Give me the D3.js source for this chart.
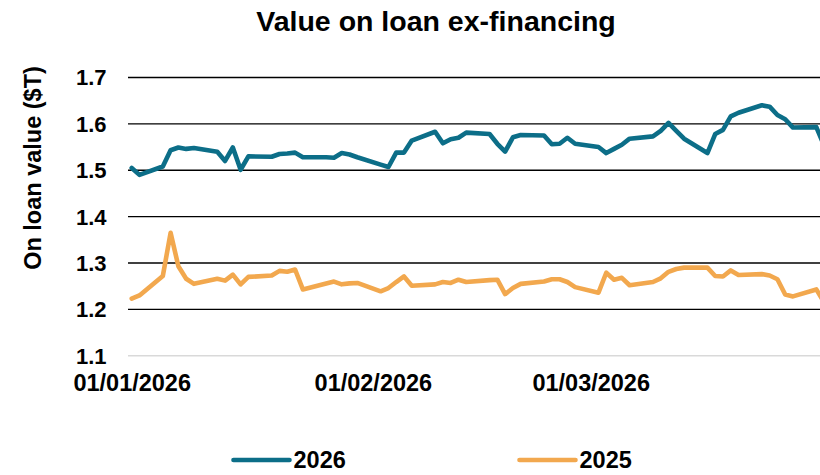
<!DOCTYPE html>
<html><head><meta charset="utf-8">
<script src="https://cdn.jsdelivr.net/npm/d3@7"></script>
<style>
html,body{margin:0;padding:0;background:#fff;}
text{font-family:"Liberation Sans",Arial,sans-serif;font-weight:bold;fill:#000;}
</style></head>
<body>
<svg id="chart" width="820" height="475"></svg>
<script>
const dates = [
"2026-01-01","2026-01-02","2026-01-05","2026-01-06","2026-01-07","2026-01-08","2026-01-09",
"2026-01-12","2026-01-13","2026-01-14","2026-01-15","2026-01-16",
"2026-01-19","2026-01-20","2026-01-21","2026-01-22","2026-01-23",
"2026-01-26","2026-01-27","2026-01-28","2026-01-29","2026-01-30",
"2026-02-02","2026-02-03","2026-02-04","2026-02-05","2026-02-06",
"2026-02-09","2026-02-10","2026-02-11","2026-02-12","2026-02-13",
"2026-02-16","2026-02-17","2026-02-18","2026-02-19","2026-02-20",
"2026-02-23","2026-02-24","2026-02-25","2026-02-26","2026-02-27",
"2026-03-02","2026-03-03","2026-03-04","2026-03-05","2026-03-06",
"2026-03-09","2026-03-10","2026-03-11","2026-03-12","2026-03-13",
"2026-03-16","2026-03-17","2026-03-18","2026-03-19","2026-03-20",
"2026-03-23","2026-03-24","2026-03-25","2026-03-26","2026-03-27",
"2026-03-30","2026-03-31"];

const values2026 = [
1.504,1.489,1.507,1.542,1.548,1.545,1.547,
1.539,1.519,1.548,1.500,1.529,
1.528,1.534,1.535,1.537,1.527,
1.527,1.526,1.536,1.533,1.527,
1.511,1.506,1.537,1.537,1.563,
1.582,1.557,1.566,1.569,1.580,
1.577,1.556,1.539,1.570,1.575,
1.574,1.555,1.556,1.569,1.556,
1.549,1.536,1.545,1.554,1.567,
1.572,1.584,1.601,1.584,1.567,
1.536,1.577,1.586,1.615,1.623,
1.639,1.636,1.618,1.609,1.591,
1.592,1.552];

const values2025 = [
1.222,1.229,1.271,1.364,1.292,1.265,1.254,
1.265,1.261,1.274,1.253,1.269,
1.272,1.282,1.280,1.285,1.242,
1.255,1.259,1.253,1.255,1.256,
1.238,1.245,1.258,1.270,1.250,
1.253,1.258,1.256,1.263,1.258,
1.262,1.263,1.232,1.245,1.254,
1.259,1.264,1.264,1.258,1.247,
1.235,1.278,1.263,1.267,1.251,
1.258,1.266,1.280,1.286,1.289,
1.289,1.271,1.270,1.283,1.273,
1.275,1.272,1.264,1.231,1.227,
1.242,1.214];

const seriesNames = ["2026","2025"];
const seriesColors = ["#0c6e88","#f2a84e"];
const yTicks = [1.1,1.2,1.3,1.4,1.5,1.6,1.7];
const xTickDates = ["2026-01-01","2026-02-01","2026-03-01"];
const xTickLabels = ["01/01/2026","01/02/2026","01/03/2026"];

const parse = d3.utcParse("%Y-%m-%d");
const svg = d3.select("#chart");

const x = d3.scaleUtc()
  .domain([parse("2026-01-01"), parse("2026-03-31")])
  .range([131.7, 824.1]);
const y = d3.scaleLinear().domain([1.1,1.7]).range([355.3,77]);

const plotLeft = 128, plotRight = 840;

// title
svg.append("text").attr("x",436).attr("y",31).attr("text-anchor","middle")
  .style("font-size","28.5px").text("Value on loan ex-financing");

// y axis title
svg.append("text").attr("transform","translate(41,168) rotate(-90)")
  .attr("text-anchor","middle").style("font-size","23.5px").text("On loan value ($T)");

// gridlines
const yAxis = d3.axisLeft(y).tickValues(yTicks).tickSize(-(plotRight-plotLeft)).tickPadding(21)
  .tickFormat(d3.format(".1f"));
const gy = svg.append("g").attr("transform",`translate(${plotLeft},0)`).call(yAxis);
gy.select(".domain").remove();
gy.selectAll(".tick line").attr("stroke",d=>d===1.1?"#d9d9d9":"#000").attr("stroke-width",1.4);
gy.selectAll(".tick text").style("font-size","22px").attr("x",-21.5).attr("dy","0.36em")
  .attr("fill","#000").style("font-family","'Liberation Sans',Arial,sans-serif").style("font-weight","bold");

// x axis labels
const xAxis = d3.axisBottom(x).tickValues(xTickDates.map(parse))
  .tickFormat((d,i)=>xTickLabels[i]).tickSize(0).tickPadding(0);
const gx = svg.append("g").attr("transform","translate(0,391)").call(xAxis);
gx.select(".domain").remove();
gx.selectAll(".tick text").attr("y",0).attr("dy",0).style("font-size","23.5px")
  .attr("fill","#000").style("font-family","'Liberation Sans',Arial,sans-serif").style("font-weight","bold");

// lines
const line = d3.line().x((d,i)=>x(parse(dates[i]))).y(d=>y(d));
[values2025, values2026].forEach((vals,k)=>{
  const idx = k===0?1:0;
  svg.append("path").datum(vals).attr("d",line)
    .attr("fill","none").attr("stroke",seriesColors[idx]).attr("stroke-width",4.6)
    .attr("stroke-linejoin","round").attr("stroke-linecap","round");
});

// legend
const legendX = [233.5, 519.5];
seriesNames.forEach((name,i)=>{
  const g = svg.append("g").attr("transform",`translate(${legendX[i]},460)`);
  g.append("line").attr("x1",0).attr("x2",56).attr("y1",0).attr("y2",0)
    .attr("stroke",seriesColors[i]).attr("stroke-width",4.6).attr("stroke-linecap","round");
  g.append("text").attr("x",60).attr("y",7.5).style("font-size","23.5px").text(name);
});
</script>
</body></html>
